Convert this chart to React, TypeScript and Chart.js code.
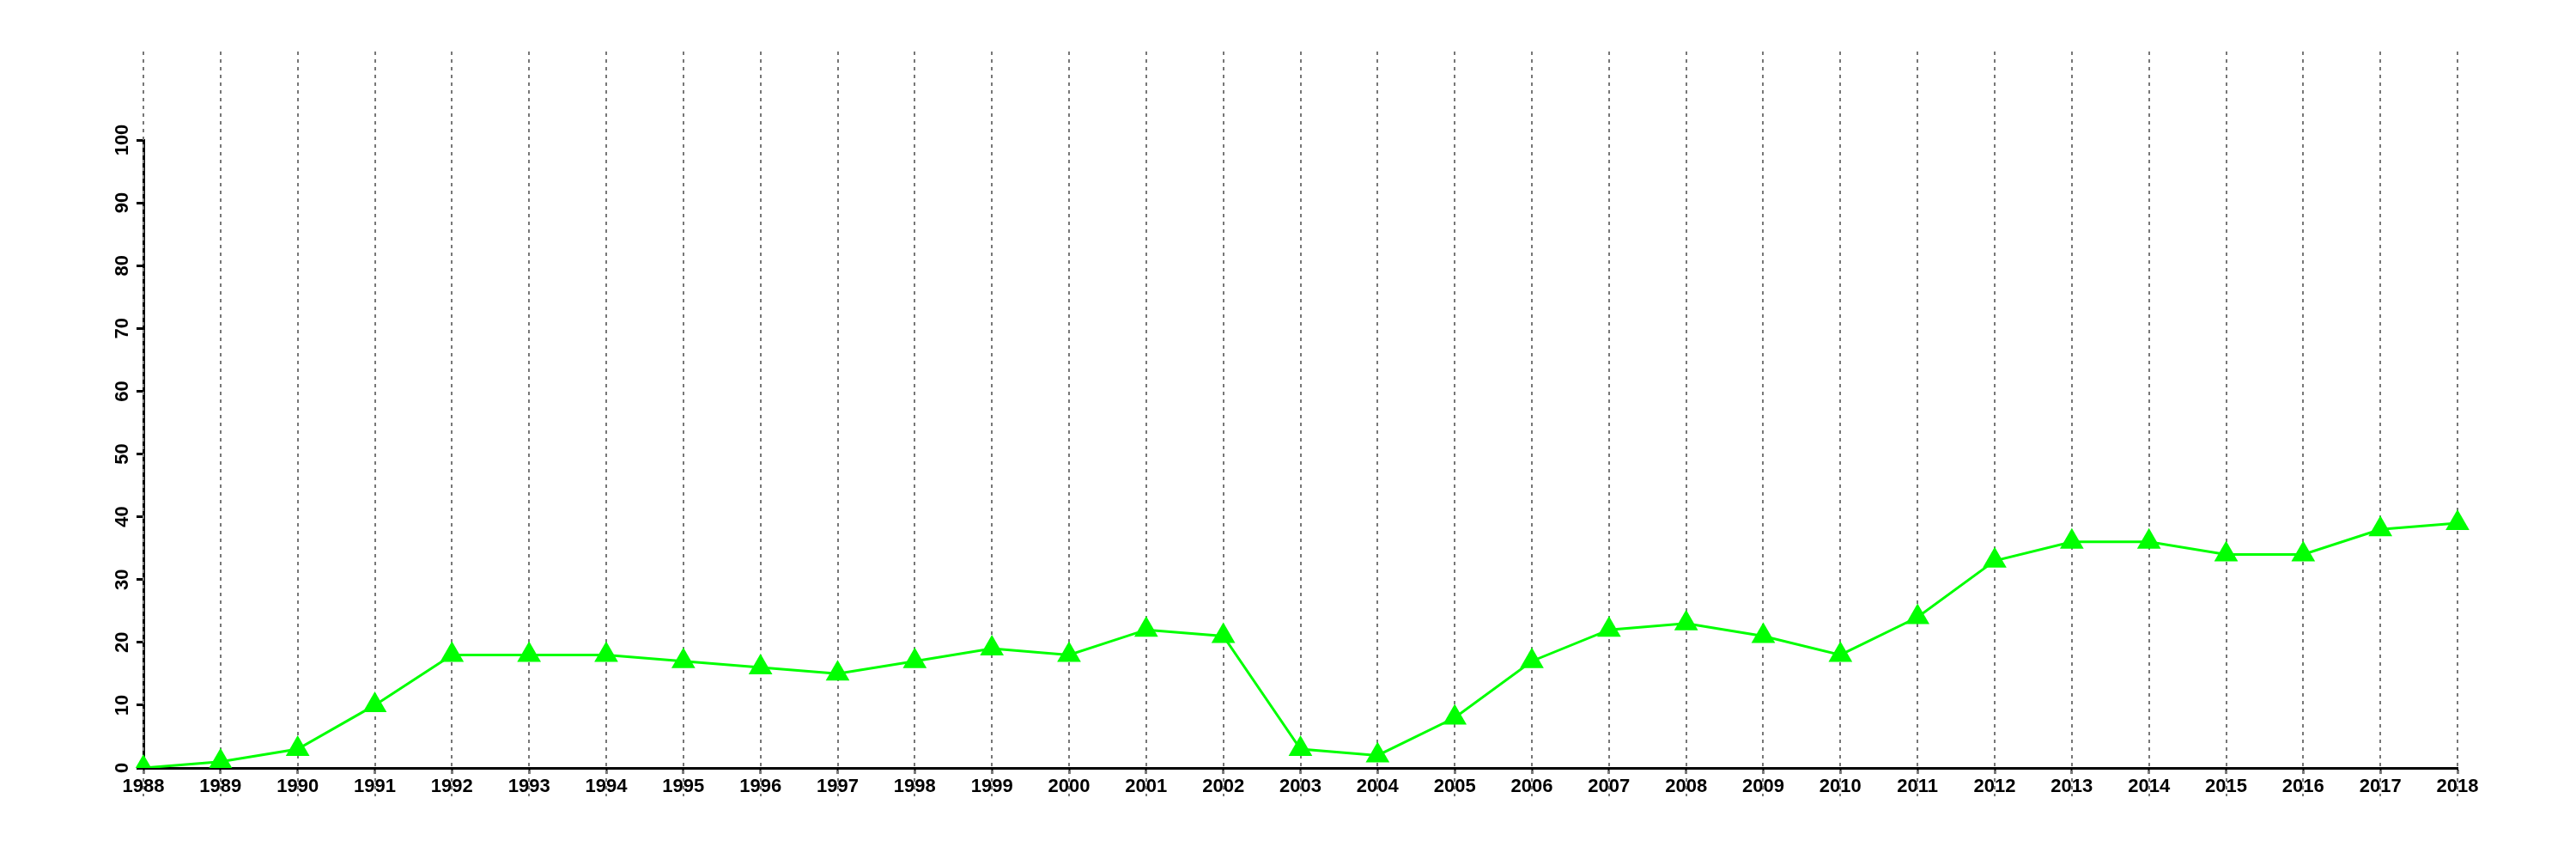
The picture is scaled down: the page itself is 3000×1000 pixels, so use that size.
import React, { useEffect, useRef } from "react";
import { Chart, registerables } from "chart.js";

Chart.register(...registerables);

const years: string[] = [
  "1988", "1989", "1990", "1991", "1992", "1993", "1994", "1995", "1996", "1997",
  "1998", "1999", "2000", "2001", "2002", "2003", "2004", "2005", "2006", "2007",
  "2008", "2009", "2010", "2011", "2012", "2013", "2014", "2015", "2016", "2017", "2018",
];

const values: number[] = [
  0, 1, 3, 10, 18, 18, 18, 17, 16, 15,
  17, 19, 18, 22, 21, 3, 2, 8, 17, 22,
  23, 21, 18, 24, 33, 36, 36, 34, 34, 38, 39,
];

const yMin = 0;
const yMax = 100;
const yStep = 10;

const FONT = "'Liberation Sans', Arial, Helvetica, sans-serif";

const extendedGrid = {
  id: "extendedGrid",
  beforeDatasetsDraw(chart: any) {
    const { ctx, chartArea, scales } = chart;
    const xs = scales.x;
    ctx.save();
    ctx.strokeStyle = "#777777";
    ctx.lineWidth = 2;
    ctx.setLineDash([4, 5]);
    const top = chartArea.top - 103;
    const bottom = chartArea.bottom + 33;
    xs.ticks.forEach((_: any, i: number) => {
      const x = Math.round(xs.getPixelForTick(i));
      ctx.beginPath();
      ctx.moveTo(x, top);
      ctx.lineTo(x, bottom);
      ctx.stroke();
    });
    ctx.restore();
  },
};

export default function App() {
  const ref = useRef<HTMLCanvasElement | null>(null);

  useEffect(() => {
    if (!ref.current) return;
    const chart = new Chart(ref.current, {
      type: "line",
      data: {
        labels: years,
        datasets: [
          {
            data: values,
            borderColor: "#00ff00",
            backgroundColor: "#00ff00",
            borderWidth: 3,
            pointStyle: "triangle",
            pointRadius: 16,
            pointHoverRadius: 16,
            pointBackgroundColor: "#00ff00",
            pointBorderColor: "#00ff00",
            pointBorderWidth: 0,
            tension: 0,
          },
        ],
      },
      options: {
        animation: false,
        responsive: true,
        maintainAspectRatio: false,
        layout: { padding: { left: 99, right: 130, top: 155, bottom: 58 } },
        plugins: {
          legend: { display: false },
          tooltip: { enabled: false },
          title: { display: false },
        },
        scales: {
          x: {
            type: "category",
            offset: false,
            border: { display: true, color: "#000000", width: 3 },
            grid: {
              display: true,
              drawOnChartArea: false,
              drawTicks: true,
              tickLength: 7,
              tickColor: "#000000",
              tickWidth: 2,
            },
            ticks: {
              color: "#000000",
              font: { family: FONT, size: 22, weight: "bold" },
              padding: 2,
              maxRotation: 0,
              minRotation: 0,
              autoSkip: false,
            },
            afterFit: (s: any) => {
              s.height = 40;
            },
          },
          y: {
            min: yMin,
            max: yMax,
            border: { display: true, color: "#000000", width: 3 },
            grid: {
              display: true,
              drawOnChartArea: false,
              drawTicks: true,
              tickLength: 8,
              tickColor: "#000000",
              tickWidth: 3,
            },
            ticks: {
              stepSize: yStep,
              color: "#000000",
              font: { family: FONT, size: 22, weight: "bold" },
              minRotation: 90,
              maxRotation: 90,
              crossAlign: "center",
              padding: -2,
            },
            afterFit: (s: any) => {
              s.width = 60;
            },
          },
        },
      },
      plugins: [extendedGrid],
    });
    return () => chart.destroy();
  }, []);

  return (
    <div style={{ width: "2984px", height: "984px", position: "relative" }}>
      <canvas ref={ref} />
    </div>
  );
}
